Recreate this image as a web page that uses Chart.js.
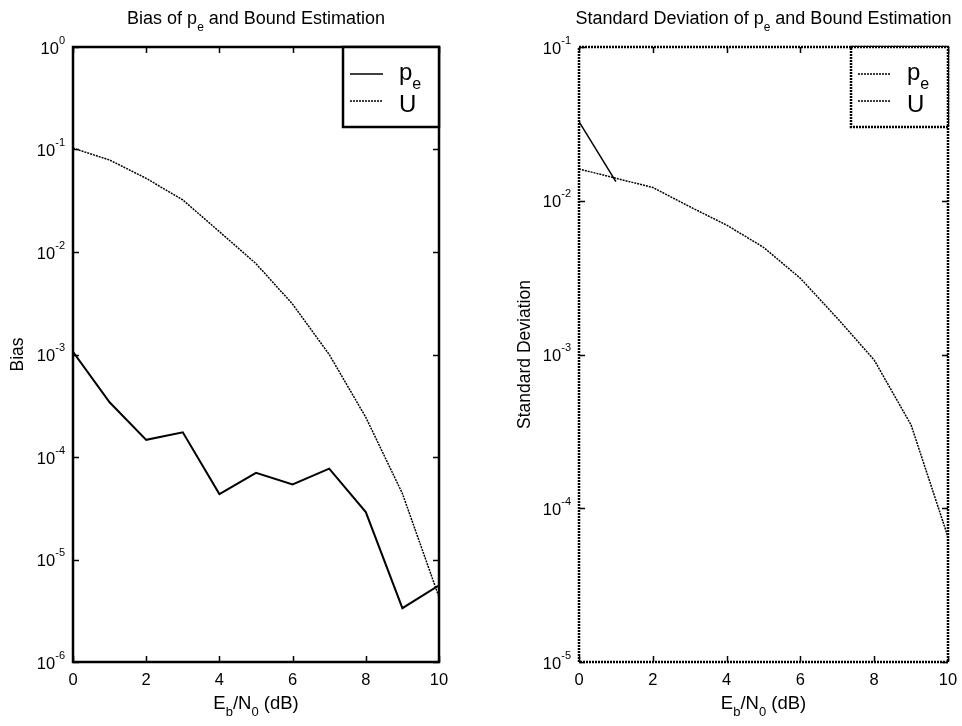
<!DOCTYPE html>
<html>
<head>
<meta charset="utf-8">
<script src="https://cdn.jsdelivr.net/npm/chart.js@4.4.0/dist/chart.umd.min.js"></script>
<style>
  body { margin: 0; background: #fff; }
  .panel { position: absolute; top: 0; width: 481px; height: 726px; }
  #leftPanel { left: 0; }
  #rightPanel { left: 481px; }
</style>
</head>
<body>
<div class="panel" id="leftPanel"><canvas id="biasChart" width="481" height="726"></canvas></div>
<div class="panel" id="rightPanel"><canvas id="stdChart" width="481" height="726"></canvas></div>
<script>
// Eb/N0 in dB
const ebn0 = [0, 1, 2, 3, 4, 5, 6, 7, 8, 9, 10];

// bias of the estimates
const biasPe = [1.06e-3, 3.42e-4, 1.47e-4, 1.74e-4, 4.35e-5, 7.0e-5, 5.4e-5, 7.7e-5, 2.9e-5, 3.35e-6, 5.6e-6];
const biasU = [0.103, 0.079, 0.0523, 0.0322, 0.0158, 0.0077, 0.0031, 1.0e-3, 2.44e-4, 4.4e-5, 4.3e-6];

// standard deviation of the estimates
const stdPe = [0.0327, 0.0133, null, null, null, null, null, null, null, null, null];
const stdU = [0.0161, 0.0140, 0.0122, 0.00915, 0.00695, 0.00498, 0.00313, 0.00172, 9.2e-4, 3.48e-4, 6.5e-5];

// axis ticks
const xTicks = [0, 2, 4, 6, 8, 10];
const biasExps = [0, -1, -2, -3, -4, -5, -6];
const stdExps = [-1, -2, -3, -4, -5];

const FONT = '"Liberation Sans", Arial, Helvetica, sans-serif';

function setFont(ctx, px) {
  ctx.font = px + "px " + FONT;
}

// draw text made of pieces: [text] or [text, "sub"|"sup"]
function drawRich(ctx, parts, x, y, size, align) {
  const small = Math.round(size * 0.68);
  let w = 0;
  parts.forEach((p) => {
    setFont(ctx, p[1] ? small : size);
    w += ctx.measureText(p[0]).width;
  });
  let cx = align === "center" ? x - w / 2 : align === "right" ? x - w : x;
  ctx.textAlign = "left";
  ctx.textBaseline = "alphabetic";
  parts.forEach((p) => {
    setFont(ctx, p[1] ? small : size);
    let dy = 0;
    if (p[1] === "sub") dy = size * 0.38;
    if (p[1] === "sup") dy = -size * 0.6;
    ctx.fillText(p[0], cx, y + dy);
    cx += ctx.measureText(p[0]).width;
  });
}

// frame, ticks, labels, legend and title, drawn on top of the lines
const matlabAxes = {
  id: "matlabAxes",
  afterDatasetsDraw(chart, args, opts) {
    const ctx = chart.ctx;
    const area = chart.chartArea;
    const xs = chart.scales.x;
    const ys = chart.scales.y;
    ctx.save();
    ctx.fillStyle = "#000";
    ctx.strokeStyle = "#000";

    // ticks inside the box, on all four sides
    ctx.lineWidth = 1.5;
    ctx.setLineDash([]);
    ctx.beginPath();
    xTicks.forEach((v) => {
      const px = Math.round(xs.getPixelForValue(v)) + 0.5;
      ctx.moveTo(px, area.bottom);
      ctx.lineTo(px, area.bottom - 6);
      ctx.moveTo(px, area.top);
      ctx.lineTo(px, area.top + 6);
    });
    opts.exps.forEach((e) => {
      const py = Math.round(ys.getPixelForValue(Math.pow(10, e))) + 0.5;
      ctx.moveTo(area.left, py);
      ctx.lineTo(area.left + 6, py);
      ctx.moveTo(area.right, py);
      ctx.lineTo(area.right - 6, py);
    });
    ctx.stroke();

    // box
    ctx.lineWidth = 2.5;
    ctx.setLineDash(opts.dottedFrame ? [2, 1] : []);
    ctx.strokeRect(area.left, area.top, area.right - area.left, area.bottom - area.top);

    // legend
    const lx = area.right - opts.legendWidth;
    ctx.fillStyle = "#fff";
    ctx.fillRect(lx, area.top, opts.legendWidth, 80);
    ctx.strokeRect(lx, area.top, opts.legendWidth, 80);
    ctx.fillStyle = "#000";
    chart.data.datasets.forEach((ds, i) => {
      const ly = area.top + 27 + i * 27;
      ctx.lineWidth = 1.5;
      ctx.setLineDash(opts.legendDash[i]);
      ctx.beginPath();
      ctx.moveTo(lx + 7, ly);
      ctx.lineTo(lx + 40, ly);
      ctx.stroke();
      drawRich(ctx, opts.legendText[i], lx + 56, ly + (i === 0 ? 6 : 11), 24, "left");
    });
    ctx.setLineDash([]);

    // x tick labels
    xTicks.forEach((v) => {
      drawRich(ctx, [[String(v)]], xs.getPixelForValue(v), area.bottom + 23, 16.5, "center");
    });
    // y tick labels as powers of ten
    opts.exps.forEach((e) => {
      const py = ys.getPixelForValue(Math.pow(10, e));
      drawRich(ctx, [["10"], [String(e), "sup"]], area.left - 8, py + 6.5, 16.5, "right");
    });

    // x axis title
    drawRich(ctx, [["E"], ["b", "sub"], ["/N"], ["0", "sub"], [" (dB)"]],
      (area.left + area.right) / 2, area.bottom + 47, 18.5, "center");

    // y axis title
    ctx.save();
    ctx.translate(opts.yTitleX, (area.top + area.bottom) / 2);
    ctx.rotate(-Math.PI / 2);
    setFont(ctx, 17.5);
    ctx.textAlign = "center";
    ctx.textBaseline = "middle";
    ctx.fillText(opts.yTitle, 0, 0);
    ctx.restore();

    // title
    drawRich(ctx, opts.title, (area.left + area.right) / 2, 24, 18, "center");
    ctx.restore();
  },
};

function makeChart(canvasId, series, yMin, yMax, padding, opts) {
  return new Chart(document.getElementById(canvasId), {
    type: "line",
    data: {
      labels: ebn0,
      datasets: series.map((s) => ({
        label: s.label,
        data: s.data.map((v, i) => ({ x: ebn0[i], y: v })),
        borderColor: "#000",
        borderWidth: s.width,
        borderDash: s.dash,
        pointRadius: 0,
        tension: 0,
        fill: false,
        spanGaps: false,
      })),
    },
    options: {
      responsive: false,
      devicePixelRatio: 1,
      animation: false,
      layout: { padding: padding },
      plugins: {
        legend: { display: false },
        tooltip: { enabled: false },
        matlabAxes: opts,
      },
      scales: {
        x: { type: "linear", min: 0, max: 10, display: false },
        y: { type: "logarithmic", min: yMin, max: yMax, display: false },
      },
    },
    plugins: [matlabAxes],
  });
}

makeChart(
  "biasChart",
  [
    { label: "pe", data: biasPe, width: 2, dash: [] },
    { label: "U", data: biasU, width: 1.5, dash: [2, 1] },
  ],
  1e-6, 1,
  { left: 73, right: 42, top: 47, bottom: 64 },
  {
    exps: biasExps,
    dottedFrame: false,
    legendWidth: 96,
    legendDash: [[], [2, 1]],
    legendText: [[["p"], ["e", "sub"]], [["U"]]],
    yTitle: "Bias",
    yTitleX: 18,
    title: [["Bias of p"], ["e", "sub"], [" and Bound Estimation"]],
  }
);

makeChart(
  "stdChart",
  [
    { label: "pe", data: stdPe, width: 1.5, dash: [] },
    { label: "U", data: stdU, width: 1.5, dash: [2, 1] },
  ],
  1e-5, 1e-1,
  { left: 98, right: 14, top: 47, bottom: 64 },
  {
    exps: stdExps,
    dottedFrame: true,
    legendWidth: 97,
    legendDash: [[2, 1], [2, 1]],
    legendText: [[["p"], ["e", "sub"]], [["U"]]],
    yTitle: "Standard Deviation",
    yTitleX: 44,
    title: [["Standard Deviation of p"], ["e", "sub"], [" and Bound Estimation"]],
  }
);
</script>
</body>
</html>
